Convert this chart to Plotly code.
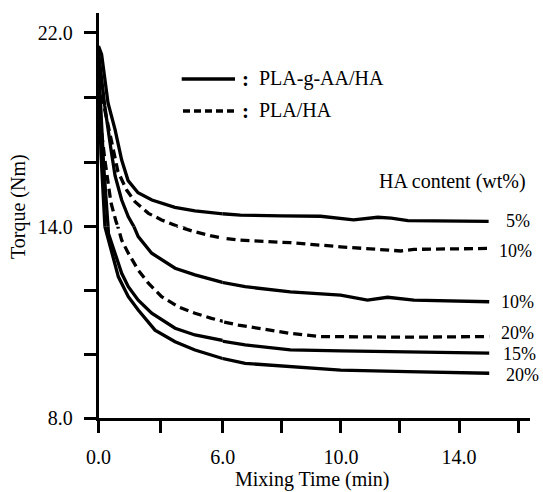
import plotly.graph_objects as go

W, H = 543, 492

# Torque vs mixing time (min, N·m) for each blend
graft5_time = [0, 0.15, 0.46, 0.8, 1.12, 1.43, 1.91, 2.58, 3.69, 4.66, 6.6, 8.0, 9.31, 10.43, 11.25, 11.7, 12.27, 15.0]
graft5_torque = [21.45, 21.1, 19.1, 18.0, 16.75, 15.9, 15.4, 15.1, 14.8, 14.65, 14.48, 14.45, 14.43, 14.28, 14.39, 14.35, 14.25, 14.22]

graft10_time = [0, 0.3, 0.6, 0.8, 1.12, 1.44, 1.92, 2.57, 3.7, 4.66, 6.76, 8.29, 9.99, 10.9, 11.58, 12.47, 15.02]
graft10_torque = [21.2, 19.0, 17.2, 16.1, 15.1, 14.41, 13.69, 13.17, 12.7, 12.49, 12.12, 11.96, 11.86, 11.7, 11.79, 11.7, 11.65]

graft15_time = [0, 0.25, 0.48, 0.8, 1.12, 1.44, 1.92, 2.57, 3.7, 4.66, 6.76, 8.29, 9.99, 12.25, 15.02]
graft15_torque = [20.8, 16.5, 13.79, 13.17, 12.54, 12.12, 11.7, 11.29, 10.82, 10.61, 10.3, 10.14, 10.11, 10.09, 10.04]

graft20_time = [0, 0.12, 0.31, 0.64, 0.96, 1.44, 1.92, 2.73, 3.7, 4.66, 6.76, 8.29, 9.99, 12.25, 15.02]
graft20_torque = [20.5, 17.0, 14.0, 13.17, 12.43, 11.81, 11.39, 10.76, 10.4, 10.14, 9.72, 9.62, 9.51, 9.46, 9.41]

pla10_time = [0, 0.3, 0.56, 0.94, 1.36, 1.76, 2.41, 3.05, 3.86, 4.66, 5.46, 6.53, 8.29, 9.99, 11.4, 12.03, 12.47, 15.02]
pla10_torque = [20.0, 18.9, 17.8, 16.27, 15.51, 15.03, 14.55, 14.28, 14.0, 13.84, 13.71, 13.58, 13.5, 13.37, 13.28, 13.24, 13.29, 13.32]

pla20_time = [0, 0.3, 0.6, 0.85, 1.12, 1.44, 1.92, 2.41, 3.05, 3.86, 4.66, 5.46, 6.53, 8.29, 9.31, 12.25, 15.02]
pla20_torque = [19.0, 16.8, 15.0, 14.2, 13.58, 13.17, 12.64, 12.23, 11.81, 11.49, 11.29, 11.13, 10.92, 10.66, 10.56, 10.54, 10.56]

# (time, torque, dashed?, end label)
series = [
    (graft5_time, graft5_torque, False, "5%"),
    (pla10_time, pla10_torque, True, "10%"),
    (graft10_time, graft10_torque, False, "10%"),
    (pla20_time, pla20_torque, True, "20%"),
    (graft15_time, graft15_torque, False, "15%"),
    (graft20_time, graft20_torque, False, "20%"),
]
label_shift = [(16, 0), (9, -3), (11, 0), (11, 4), (13, -1), (16, -1.5)]

legend_labels = ["PLA-g-AA/HA", "PLA/HA"]
x_tick_labels = ["0.0", "6.0", "10.0", "14.0"]

FONT = "Liberation Serif, Times New Roman, serif"
FS = 20


def fx(p):
    return p / W


def fy(p):
    return 1 - p / H


fig = go.Figure()

# broken scales: x splits at 6 min, y splits at 14 N·m
for t, v, dashed, _ in series:
    for xa in ("x", "x2"):
        for ya in ("y", "y2"):
            fig.add_trace(go.Scatter(
                x=t, y=v, xaxis=xa, yaxis=ya, mode="lines",
                line=dict(color="black", width=3.3,
                          dash="9px,5px" if dashed else "solid"),
                showlegend=False, hoverinfo="skip"))

axis_common = dict(
    showgrid=False, zeroline=False, showline=True, linecolor="black",
    linewidth=2.6, ticks="outside", ticklen=12, tickwidth=2.6,
    tickcolor="black", tickfont=dict(family=FONT, size=FS, color="black"),
    ticklabelstandoff=7, automargin=False,
)

fig.update_layout(
    template="none",
    width=W, height=H,
    margin=dict(l=0, r=0, t=0, b=0, pad=0, autoexpand=False),
    paper_bgcolor="white", plot_bgcolor="white",
    xaxis=dict(axis_common, domain=[fx(98.5), fx(222.7)], range=[0, 6],
               anchor="y", tickmode="array", tickvals=[0, 3],
               ticktext=[x_tick_labels[0], ""]),
    xaxis2=dict(axis_common, domain=[fx(222.7), fx(530)], range=[6, 16.4],
                anchor="y", tickmode="array", tickvals=[6, 8, 10, 12, 14, 16],
                ticktext=[x_tick_labels[1], "", x_tick_labels[2], "",
                          x_tick_labels[3], ""]),
    yaxis=dict(axis_common, domain=[fy(418.3), fy(226.7)], range=[8, 14],
               anchor="x", tickmode="array", tickvals=[8, 10, 12],
               ticktext=["8.0", "", ""]),
    yaxis2=dict(axis_common, domain=[fy(226.7), fy(13)], range=[14, 22.81],
                anchor="x", tickmode="array",
                tickvals=[14, 14 + 8 / 3, 14 + 16 / 3, 22],
                ticktext=["14.0", "", "", "22.0"]),
)

annotations = []
# labels at the end of each curve
for (t, v, dashed, lab), (dx, dy) in zip(series, label_shift):
    annotations.append(dict(
        x=t[-1], y=v[-1], xref="x2", yref="y2" if v[-1] >= 14 else "y",
        text=lab, showarrow=False, xanchor="left", yanchor="middle",
        xshift=dx, yshift=dy, borderpad=0,
        font=dict(family=FONT, size=18, color="black")))

annotations += [
    dict(x=fx(377), y=fy(181), xref="paper", yref="paper",
         text="HA content (wt%)", showarrow=False, xanchor="left",
         yanchor="middle", font=dict(family=FONT, size=FS, color="black")),
    dict(x=fx(312), y=fy(479), xref="paper", yref="paper",
         text="Mixing Time (min)", showarrow=False, xanchor="center",
         yanchor="middle", font=dict(family=FONT, size=FS, color="black")),
    dict(x=fx(19), y=fy(207), xref="paper", yref="paper",
         text="Torque (Nm)", textangle=-90, showarrow=False,
         xanchor="center", yanchor="middle",
         font=dict(family=FONT, size=FS, color="black")),
]

# key: line samples with colon and name
legend_rows = [(79, "solid", 181.7, 235), (111, "7px,4px", 183, 238)]
shapes = []
for (py, dash, x0, x1), name in zip(legend_rows, legend_labels):
    shapes.append(dict(type="line", xref="paper", yref="paper",
                       x0=fx(x0), x1=fx(x1), y0=fy(py), y1=fy(py),
                       line=dict(color="black", width=3.3, dash=dash)))
    annotations.append(dict(x=fx(245), y=fy(py), xref="paper", yref="paper",
                            text="<b>:</b>", showarrow=False,
                            xanchor="center", yanchor="middle",
                            font=dict(family=FONT, size=21, color="black")))
    annotations.append(dict(x=fx(257), y=fy(py - 1), xref="paper", yref="paper",
                            text=name, showarrow=False, xanchor="left",
                            yanchor="middle",
                            font=dict(family=FONT, size=FS, color="black")))

fig.update_layout(annotations=annotations, shapes=shapes)

fig.write_html("out.html")
